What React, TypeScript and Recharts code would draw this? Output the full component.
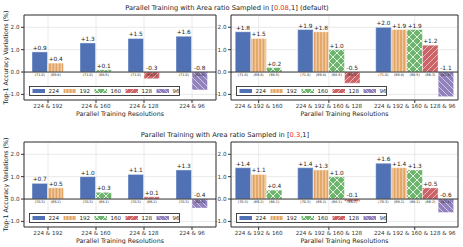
import React from 'react';
import {
  BarChart,
  Bar,
  XAxis,
  YAxis,
  CartesianGrid,
  Cell,
  LabelList,
  Legend,
  ReferenceLine,
  ReferenceArea,
} from 'recharts';

const FONT = '"DejaVu Sans", Verdana, sans-serif';

// resolutions and their single-resolution baselines
const resolutions = ['224', '192', '160', '128', '96'];
const resColors = ['#5072B4', '#E3A462', '#6DB46D', '#CC6366', '#9181BC'];
const baselineDefault = [71.0, 69.8, 68.5, 66.3, 62.8];
const baselineNarrow = [70.3, 69.2, 68.1, 66.2, 62.8];

// two resolutions trained together
const pairLabels = ['224 & 192', '224 & 160', '224 & 128', '224 & 96'];
const pairMembers = [[0, 1], [0, 2], [0, 3], [0, 4]];
const pairDefault = [[0.9, 0.4], [1.3, 0.1], [1.5, -0.3], [1.6, -0.8]];
const pairNarrow = [[0.7, 0.5], [1.0, 0.3], [1.1, 0.1], [1.3, -0.4]];

// three or more resolutions trained together
const multiLabels = ['224 & 192 & 160', '224 & 192 & 160 & 128', '224 & 192 & 160 & 128 & 96'];
const multiMembers = [[0, 1, 2], [0, 1, 2, 3], [0, 1, 2, 3, 4]];
const multiDefault = [[1.8, 1.5, 0.2], [1.9, 1.8, 1.0, -0.5], [2.0, 1.9, 1.9, 1.2, -1.1]];
const multiNarrow = [[1.4, 1.1, 0.4], [1.4, 1.3, 1.0, -0.1], [1.6, 1.4, 1.3, 0.5, -0.6]];

const yTicks = [-1, 0, 1, 2];
const yDomain: [number, number] = [-1.25, 2.55];

const titleHead = 'Parallel Training with Area ratio Sampled in [';
const titleDefault = ['0.08', ',1] (default)'];
const titleNarrow = ['0.3', ',1]'];
const yLabel = 'Top-1 Accuracy Variations (%)';
const xLabel = 'Parallel Training Resolutions';

type Row = { x: number; value: number; res: number; base: number };

function buildRows(members: number[][], values: number[][], baselines: number[]) {
  const rows: Row[] = [];
  const ticks: number[] = [];
  let start = 0;
  members.forEach((grp, g) => {
    grp.forEach((res, i) => {
      rows.push({ x: start + i, value: values[g][i], res, base: baselines[res] });
    });
    ticks.push(start + (grp.length - 1) / 2);
    start += grp.length + 1;
  });
  return { rows, ticks, last: start - 2 };
}

const fillFor = (pid: string, res: number) => (res === 0 ? resColors[0] : `url(#${pid}-r${res})`);

function Patterns({ pid }: { pid: string }) {
  return (
    <defs>
      <pattern id={`${pid}-r1`} patternUnits="userSpaceOnUse" width={3.2} height={8}>
        <rect width={3.2} height={8} fill={resColors[1]} />
        <line x1={1.6} y1={0} x2={1.6} y2={8} stroke="#fff" strokeWidth={0.9} strokeOpacity={0.7} />
      </pattern>
      <pattern id={`${pid}-r2`} patternUnits="userSpaceOnUse" width={8} height={8}>
        <rect width={8} height={8} fill={resColors[2]} />
        <path d="M0,0 L8,8 M8,0 L0,8" stroke="#fff" strokeWidth={1} strokeOpacity={0.8} />
      </pattern>
      <pattern id={`${pid}-r3`} patternUnits="userSpaceOnUse" width={6} height={6}>
        <rect width={6} height={6} fill={resColors[3]} />
        <path d="M-1,1 L1,-1 M0,6 L6,0 M5,7 L7,5" stroke="#fff" strokeWidth={0.8} strokeOpacity={0.7} />
      </pattern>
      <pattern id={`${pid}-r4`} patternUnits="userSpaceOnUse" width={6} height={6}>
        <rect width={6} height={6} fill={resColors[4]} />
        <path d="M-1,5 L1,7 M0,0 L6,6 M5,-1 L7,1" stroke="#fff" strokeWidth={0.8} strokeOpacity={0.7} />
      </pattern>
    </defs>
  );
}

const barBox = (p: any) => {
  const vb = p.viewBox ?? p;
  const x = Number(vb.x);
  const y = Number(vb.y);
  const w = Number(vb.width);
  const h = Number(vb.height);
  return { cx: x + w / 2, top: Math.min(y, y + h), bottom: Math.max(y, y + h) };
};

const renderValue = (p: any) => {
  const v = Number(p.value);
  const { cx, top } = barBox(p);
  const yy = v >= 0 ? top - 2 : top - 2.5;
  return (
    <text x={cx} y={yy} textAnchor="middle" fontSize={5.8} fill="#222" fontFamily={FONT}>
      {v > 0 ? `+${v.toFixed(1)}` : v.toFixed(1)}
    </text>
  );
};

const renderBase = (p: any) => {
  const v = Number(p.value);
  const { cx, top, bottom } = barBox(p);
  const zero = p.sign >= 0 ? bottom : top;
  return (
    <text x={cx} y={zero + 4.2} textAnchor="middle" fontSize={3.4} fill="#222" fontFamily={FONT}>
      ({v.toFixed(1)})
    </text>
  );
};

function LegendBox({ pid }: { pid: string }) {
  return (
    <svg width={151} height={10} style={{ display: 'block' }}>
      <rect x={0.5} y={0.5} width={150} height={9} fill="#fff" stroke="#333" strokeWidth={0.9} />
      {resolutions.map((r, i) => (
        <g key={r}>
          <rect x={3.5 + 31 * i} y={3} width={12.5} height={4} fill={fillFor(pid, i)} />
          <text x={19.5 + 31 * i} y={7} fontSize={5.5} fill="#222" fontFamily={FONT}>
            {r}
          </text>
        </g>
      ))}
    </svg>
  );
}

type PanelProps = {
  pid: string;
  left: number;
  top: number;
  width: number;
  height: number;
  labels: string[];
  members: number[][];
  values: number[][];
  baselines: number[];
  pad: number;
};

function Panel(p: PanelProps) {
  const { rows, ticks, last } = buildRows(p.members, p.values, p.baselines);
  const domain: [number, number] = [-p.pad, last + p.pad];
  const YW = 22;
  const XH = 17;
  const MT = 2;
  const MR = 2;
  const tickText = { fontSize: 5.6, fill: '#333', fontFamily: FONT };
  return (
    <div style={{ position: 'absolute', left: p.left - YW, top: p.top - MT }}>
      <BarChart
        width={YW + p.width + MR}
        height={MT + p.height + XH}
        data={rows}
        margin={{ top: MT, right: MR, bottom: 0, left: 0 }}
        barGap={0}
      >
        <Patterns pid={p.pid} />
        <CartesianGrid stroke="#e4e4e4" strokeWidth={0.8} />
        <XAxis
          dataKey="x"
          type="number"
          domain={domain}
          allowDataOverflow
          ticks={ticks}
          interval={0}
          tickFormatter={(v: number) => p.labels[ticks.indexOf(v)] ?? ''}
          tick={tickText}
          tickLine={{ stroke: '#333' }}
          tickSize={3}
          tickMargin={1}
          axisLine={false}
          height={XH}
          label={{ value: xLabel, position: 'insideBottom', offset: 1.5, fontSize: 6.3, fill: '#222', fontFamily: FONT }}
        />
        <YAxis
          type="number"
          domain={yDomain}
          allowDataOverflow
          ticks={yTicks}
          interval={0}
          tickFormatter={(v: number) => v.toFixed(1)}
          tick={tickText}
          tickLine={{ stroke: '#333' }}
          tickSize={3}
          tickMargin={1.5}
          axisLine={false}
          width={YW}
        />
        <Bar
          dataKey="value"
          barSize={15.5}
          isAnimationActive={false}
          stroke="#fff"
          strokeOpacity={0.5}
          strokeWidth={0.8}
        >
          {rows.map((r, i) => (
            <Cell key={i} fill={fillFor(p.pid, r.res)} />
          ))}
          <LabelList dataKey="value" content={renderValue} />
          <LabelList
            dataKey="base"
            content={(lp: any) => renderBase({ ...lp, sign: rows[lp.index]?.value ?? 1 })}
          />
        </Bar>
        <ReferenceLine y={0} stroke="#222" strokeWidth={0.9} />
        <ReferenceArea
          x1={domain[0]}
          x2={domain[1]}
          y1={yDomain[0]}
          y2={yDomain[1]}
          fill="none"
          fillOpacity={0}
          stroke="#333"
          strokeWidth={1}
        />
        <Legend
          layout="horizontal"
          verticalAlign="middle"
          align="center"
          content={() => <LegendBox pid={p.pid} />}
          wrapperStyle={{ left: YW + 4.5, top: 73, width: 151, height: 10 }}
        />
      </BarChart>
    </div>
  );
}

export default function App() {
  const rowTops = [15, 142];
  const leftX = 24;
  const rightX = 231;
  return (
    <div
      style={{
        position: 'absolute',
        left: 0,
        top: 0,
        width: 463,
        height: 247,
        background: '#fff',
        fontFamily: FONT,
        overflow: 'hidden',
      }}
    >
      <svg width={463} height={247} style={{ position: 'absolute', left: 0, top: 0, pointerEvents: 'none' }}>
        <text x={227} y={10} textAnchor="middle" fontSize={6.7} fill="#222" fontFamily={FONT}>
          {titleHead}
          <tspan fill="#f01e1e">{titleDefault[0]}</tspan>
          {titleDefault[1]}
        </text>
        <text x={225} y={137} textAnchor="middle" fontSize={6.7} fill="#222" fontFamily={FONT}>
          {titleHead}
          <tspan fill="#f01e1e">{titleNarrow[0]}</tspan>
          {titleNarrow[1]}
        </text>
        {rowTops.map((t) => (
          <text
            key={t}
            transform={`translate(7.5,${t + 42.5}) rotate(-90)`}
            textAnchor="middle"
            fontSize={6.3}
            fill="#222"
            fontFamily={FONT}
          >
            {yLabel}
          </text>
        ))}
      </svg>
      <Panel pid="tl" left={leftX} top={rowTops[0]} width={192} height={85} labels={pairLabels}
        members={pairMembers} values={pairDefault} baselines={baselineDefault} pad={1} />
      <Panel pid="tr" left={rightX} top={rowTops[0]} width={227} height={85} labels={multiLabels}
        members={multiMembers} values={multiDefault} baselines={baselineDefault} pad={0.77} />
      <Panel pid="bl" left={leftX} top={rowTops[1]} width={192} height={85} labels={pairLabels}
        members={pairMembers} values={pairNarrow} baselines={baselineNarrow} pad={1} />
      <Panel pid="br" left={rightX} top={rowTops[1]} width={227} height={85} labels={multiLabels}
        members={multiMembers} values={multiNarrow} baselines={baselineNarrow} pad={0.77} />
    </div>
  );
}
